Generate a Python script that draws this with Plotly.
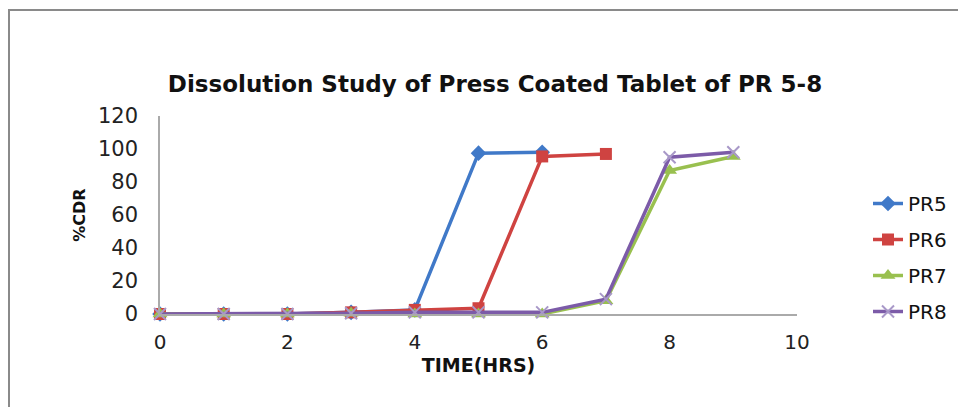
import plotly.graph_objects as go

time_pr5 = [0, 1, 2, 3, 4, 5, 6]
pr5 = [0, 0, 0, 1, 2.5, 97.5, 98]
time_pr6 = [0, 1, 2, 3, 4, 5, 6, 7]
pr6 = [0, 0, 0, 1, 2.5, 3.5, 95.5, 97]
time_pr78 = [0, 1, 2, 3, 4, 5, 6, 7, 8, 9]
pr7 = [0, 0, 0, 0.5, 0, 0, 0, 8, 87, 95.5]
pr8 = [0, 0, 0, 0.5, 1, 1, 1, 9, 95, 98]

x_ticks = [0, 2, 4, 6, 8, 10]
y_ticks = [0, 20, 40, 60, 80, 100, 120]

# page has an 8px body margin, so the figure is offset by 8px
OFF = 8
W, H = 966 - OFF, 407 - OFF
L, R, T, B = 160 - OFF, 797 - OFF, 116 - OFF, 314 - OFF

FONT = "DejaVu Sans"

fig = go.Figure()
series = [
    ("PR5", time_pr5, pr5, "#4079c8", "diamond", 12),
    ("PR6", time_pr6, pr6, "#cf4341", "square", 12),
    ("PR7", time_pr78, pr7, "#99c04f", "triangle-up", 13),
    ("PR8", time_pr78, pr8, "#7c5ba8", "x-thin", 12),
]
for name, xs, ys, col, sym, sz in series:
    mk = dict(symbol=sym, size=sz, color=col)
    if sym == "x-thin":
        mk["line"] = dict(width=2, color="#a898c8")
    fig.add_trace(go.Scatter(
        x=xs, y=ys, name=name, mode="lines+markers",
        line=dict(color=col, width=3.5), marker=mk, cliponaxis=False,
        legendgroup=name,
    ))

def px_x(p):
    return (p - OFF - L) / (R - L)

def px_y(p):
    return (B - (p - OFF)) / (B - T)

fig.add_shape(type="path", xref="paper", yref="paper",
              path=f"M {px_x(9)} {px_y(410)} L {px_x(9)} {px_y(10)} L {px_x(970)} {px_y(10)}",
              line=dict(color="#8a8a8a", width=2))

fig.update_layout(
    width=W, height=H,
    margin=dict(l=L, r=W - R, t=T, b=H - B, pad=0),
    paper_bgcolor="white", plot_bgcolor="white",
    title=dict(text="<b>Dissolution Study of Press Coated Tablet of PR 5-8</b>",
               x=(495 - OFF) / W, xanchor="center", y=1 - (84 - OFF) / H, yanchor="middle",
               font=dict(family=FONT, size=23, color="#111")),
    xaxis=dict(range=[0, 10], tickvals=x_ticks, showgrid=False, zeroline=False,
               showline=True, linecolor="#aaaaaa", linewidth=1.5,
               tickfont=dict(family=FONT, size=20, color="#222"),
               ticks="", ticklabelstandoff=9,
               title=dict(text="<b>TIME(HRS)</b>", standoff=6,
                          font=dict(family=FONT, size=19, color="#111"))),
    yaxis=dict(range=[0, 120], tickvals=y_ticks, showgrid=False, zeroline=False,
               showline=True, linecolor="#aaaaaa", linewidth=1.5,
               tickfont=dict(family=FONT, size=21, color="#222"),
               ticks="", ticklabelstandoff=16,
               title=dict(text="<b>%CDR</b>", standoff=8,
                          font=dict(family=FONT, size=16, color="#111"))),
    legend=dict(x=px_x(868), y=px_y(184), xanchor="left", yanchor="top",
                font=dict(family=FONT, size=20, color="#111"),
                tracegroupgap=7, bgcolor="rgba(0,0,0,0)"),
    showlegend=True,
)

fig.write_html("out.html")
